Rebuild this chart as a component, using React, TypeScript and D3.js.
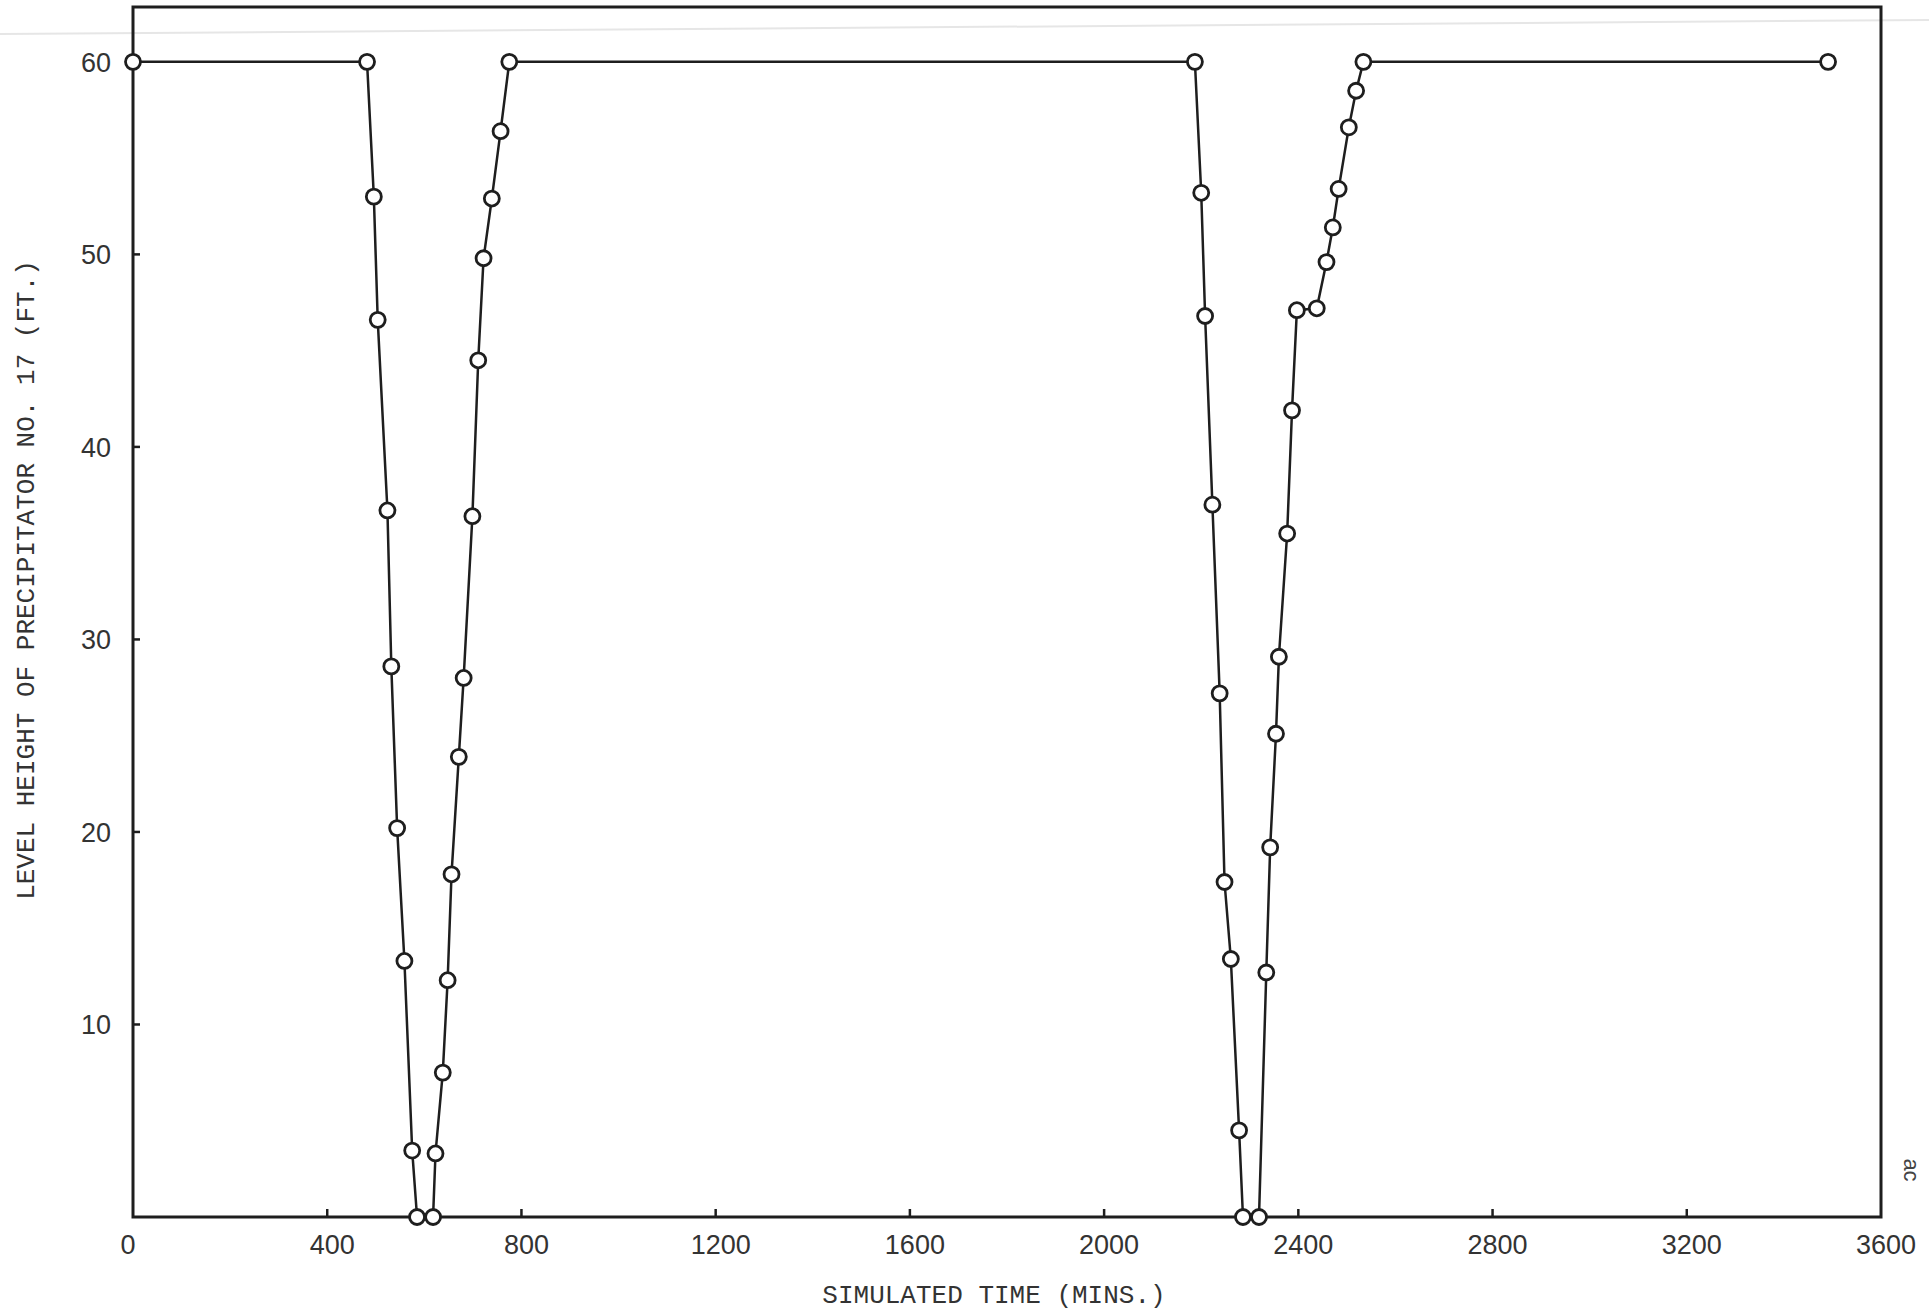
import React from "react";
import * as d3 from "d3";

// simulated time (mins) and level height (ft)
const timeMins = [
  0, 482, 496, 504, 524, 532, 544, 559, 575, 585,
  618, 623, 638, 648, 656, 671, 681, 699, 711, 722, 739, 757, 775,
  2187, 2200, 2208, 2223, 2238, 2248, 2261, 2278, 2286,
  2319, 2334, 2342, 2354, 2360, 2377, 2387, 2397, 2438, 2458, 2471, 2483, 2504, 2519, 2534,
  3491,
];
const levelFt = [
  60, 60, 53.0, 46.6, 36.7, 28.6, 20.2, 13.3, 3.45, 0,
  0, 3.3, 7.5, 12.3, 17.8, 23.9, 28.0, 36.4, 44.5, 49.8, 52.9, 56.4, 60,
  60, 53.2, 46.8, 37.0, 27.2, 17.4, 13.4, 4.5, 0,
  0, 12.7, 19.2, 25.1, 29.1, 35.5, 41.9, 47.1, 47.2, 49.6, 51.4, 53.4, 56.6, 58.5, 60,
  60,
];

const xTickLabels = [0, 400, 800, 1200, 1600, 2000, 2400, 2800, 3200, 3600];
const yTickLabels = [10, 20, 30, 40, 50, 60];

const W = 1929;
const H = 1312;

export default function App() {
  const x = d3.scaleLinear().domain([0, 3600]).range([133, 1881]);
  const y = d3.scaleLinear().domain([0, 62.85]).range([1217, 7]);

  const points = timeMins.map((t, i) => ({ t, v: levelFt[i] }));
  const line = d3
    .line<{ t: number; v: number }>()
    .x((d) => x(d.t))
    .y((d) => y(d.v));

  const ink = "#1e1e1e";
  const tickFont = "'Liberation Sans', Arial, sans-serif";
  const monoFont = "'Liberation Mono', 'DejaVu Sans Mono', monospace";

  const [x0, x1] = x.range();
  const [y0, y1] = y.range();

  return (
    <svg
      width={W}
      height={H}
      style={{ position: "absolute", left: 0, top: 0, background: "#fff" }}
    >
      <rect width={W} height={H} fill="#fff" />
      {/* faint scan line at the top */}
      <line x1={0} y1={34} x2={W} y2={20} stroke="#e6e6e6" strokeWidth={2} />

      {/* frame */}
      <path
        d={`M${x0},${y1}L${x1},${y1}L${x1},${y0}L${x0},${y0}Z`}
        fill="none"
        stroke={ink}
        strokeWidth={3}
      />

      {/* inward ticks */}
      {xTickLabels
        .filter((t) => t > 0 && t < 3600)
        .map((t) => (
          <line key={"xt" + t} x1={x(t)} x2={x(t)} y1={y0} y2={y0 - 8} stroke={ink} strokeWidth={2.5} />
        ))}
      {yTickLabels
        .filter((v) => v < 60)
        .map((v) => (
          <line key={"yt" + v} x1={x0} x2={x0 + 7} y1={y(v)} y2={y(v)} stroke={ink} strokeWidth={2.5} />
        ))}

      {/* tick labels */}
      {xTickLabels.map((t) => (
        <text
          key={"xl" + t}
          x={x(t) + (t === 0 ? -5 : 5)}
          y={1254}
          textAnchor="middle"
          fontFamily={tickFont}
          fontSize={27}
          fill="#333"
        >
          {t}
        </text>
      ))}
      {yTickLabels.map((v) => (
        <text
          key={"yl" + v}
          x={111}
          y={y(v) + 10}
          textAnchor="end"
          fontFamily={tickFont}
          fontSize={27}
          fill="#333"
        >
          {v}
        </text>
      ))}

      {/* axis titles */}
      <text
        x={994}
        y={1303}
        textAnchor="middle"
        fontFamily={monoFont}
        fontSize={26}
        fill="#333"
      >
        SIMULATED TIME (MINS.)
      </text>
      <text
        transform="translate(34,580) rotate(-90)"
        textAnchor="middle"
        fontFamily={monoFont}
        fontSize={26}
        fill="#333"
      >
        LEVEL HEIGHT OF PRECIPITATOR NO. 17 (FT.)
      </text>

      {/* page margin mark */}
      <text
        transform="translate(1904,1170) rotate(90)"
        textAnchor="middle"
        fontFamily={tickFont}
        fontSize={22}
        fill="#444"
      >
        ac
      </text>

      {/* series */}
      <path d={line(points) ?? ""} fill="none" stroke={ink} strokeWidth={2.5} />
      {points.map((d, i) => (
        <circle
          key={i}
          cx={x(d.t)}
          cy={y(d.v)}
          r={7.5}
          fill="#fff"
          stroke={ink}
          strokeWidth={2.8}
        />
      ))}
    </svg>
  );
}
